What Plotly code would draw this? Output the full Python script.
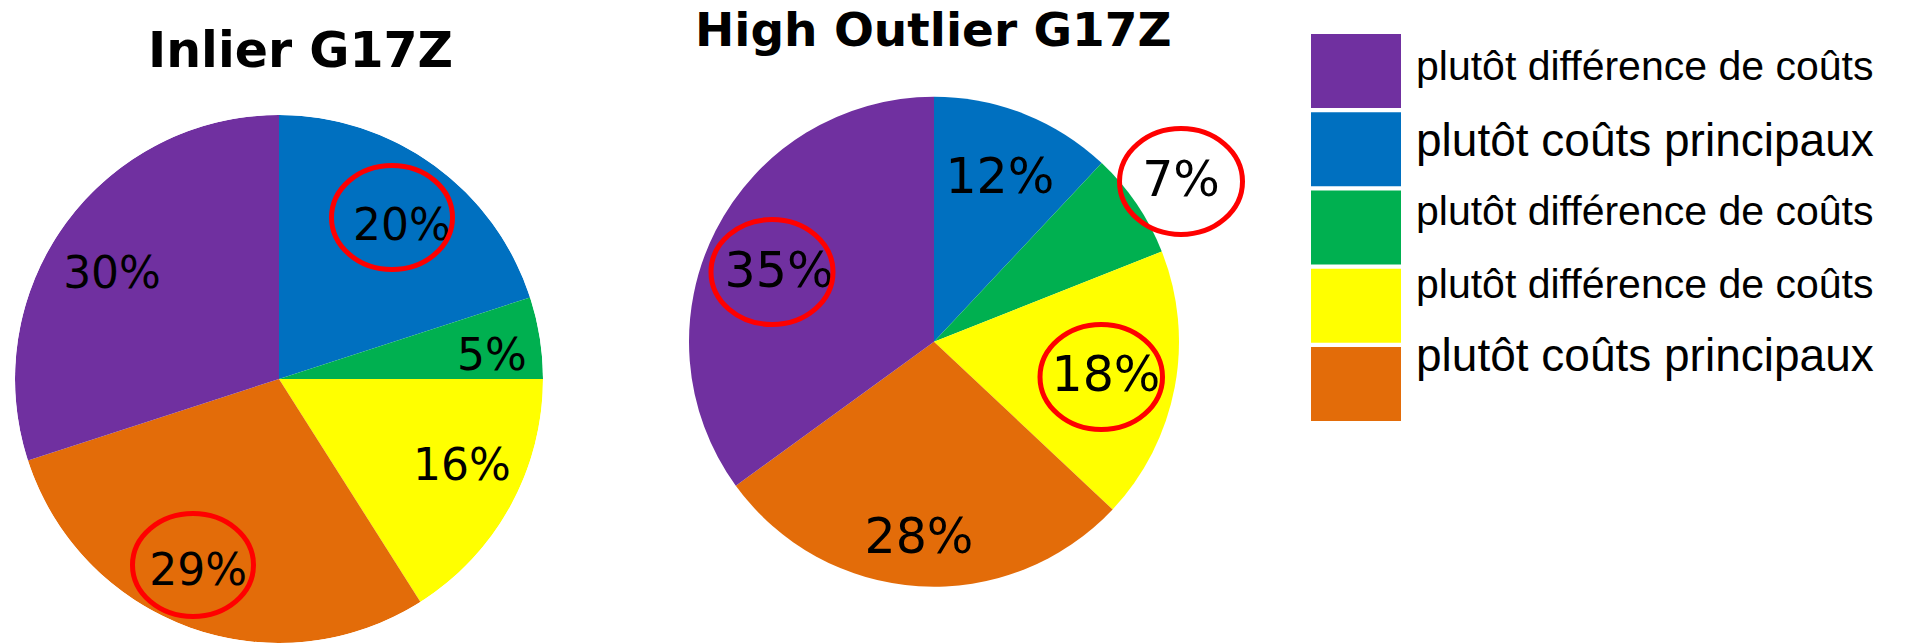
import numpy as np
import plotly.graph_objects as go

W, H = 1911, 643

# ---------------- data ----------------
legend_labels = [
    "plutôt différence de coûts",
    "plutôt coûts principaux",
    "plutôt différence de coûts",
    "plutôt différence de coûts",
    "plutôt coûts principaux",
]
legend_colors = ["#7030A0", "#0070C0", "#00B050", "#FFFF00", "#E36C09"]

# slices clockwise from 12 o'clock (index into legend lists)
slice_order = [1, 2, 3, 4, 0]
inlier_values = [20, 5, 16, 29, 30]
high_outlier_values = [12, 7, 18, 28, 35]

titles = ["Inlier G17Z", "High Outlier G17Z"]

# ---------------- style / layout ----------------
# label placement: distance from centre (fraction of radius) and angular nudge (deg)
inlier_label_r = [0.755, 0.813, 0.761, 0.775, 0.755]
inlier_label_nudge = [2.1, 1.8, -4.4, 3.5, -2.9]
outlier_label_r = [0.740, 1.215, 0.712, 0.783, 0.702]
outlier_label_nudge = [-0.3, 0.3, -1.1, 0.9, -1.3]


def px(x):
    return x / W


def py(y):
    return 1 - y / H


def wedges(values):
    v = np.asarray(values, dtype=float)
    widths = v / v.sum() * 360.0
    mids = np.cumsum(widths) - widths / 2
    return mids, widths


def label_polar(r, theta_deg, down_frac):
    """shift the label point down (screen) so the glyphs are visually centred"""
    t = np.radians(theta_deg)
    x = np.asarray(r) * np.sin(t)
    y = np.asarray(r) * np.cos(t) - down_frac
    return np.hypot(x, y), np.degrees(np.arctan2(x, y)) % 360


fig = go.Figure()

pies = [
    ("polar", inlier_values, inlier_label_r, inlier_label_nudge, 44, 264),
    ("polar2", high_outlier_values, outlier_label_r, outlier_label_nudge, 49, 245),
]
slice_colors = [legend_colors[i] for i in slice_order]

for subplot, values, label_r, nudge, fsize, radius in pies:
    mids, widths = wedges(values)
    fig.add_trace(go.Barpolar(
        r=[1] * len(values), theta=mids, width=widths,
        marker=dict(color=slice_colors, line=dict(width=0)),
        subplot=subplot, showlegend=False, hoverinfo="skip",
    ))
    lr, lt = label_polar(label_r, mids + np.asarray(nudge), 0.155 * fsize / radius)
    fig.add_trace(go.Scatterpolar(
        r=lr, theta=lt, mode="text",
        text=[f"{v}%" for v in values],
        textposition="middle center",
        textfont=dict(family="DejaVu Sans", size=fsize, color="black"),
        cliponaxis=False, subplot=subplot, showlegend=False, hoverinfo="skip",
    ))


def polar_layout(cx, cy, radius, rmax):
    half = radius * rmax
    return dict(
        domain=dict(x=[px(cx - half), px(cx + half)],
                    y=[max(0.0, py(cy + half)), min(1.0, py(cy - half))]),
        bgcolor="rgba(0,0,0,0)", hole=0, bargap=0,
        radialaxis=dict(range=[0, rmax], visible=False),
        angularaxis=dict(rotation=90, direction="clockwise", visible=False),
    )


shapes = []
annotations = []

# titles
annotations.append(dict(
    text=titles[0], x=px(300), y=py(51), xref="paper", yref="paper",
    xanchor="center", yanchor="middle", showarrow=False,
    font=dict(family="DejaVu Sans", size=49, weight=700, color="black"),
))
annotations.append(dict(
    text=titles[1], x=px(933), y=1, xref="paper", yref="paper",
    xanchor="center", yanchor="top", showarrow=False,
    font=dict(family="DejaVu Sans", size=47, weight=700, color="black"),
))

# legend (swatches + text)
sw_x0, sw_x1, sw_top, sw_h, sw_step = 1311, 1401, 34, 74, 78.25
legend_text_y = [66, 140, 211, 284, 355]
legend_font_sizes = [41, 46, 41, 41, 46]
for i, (lab, col) in enumerate(zip(legend_labels, legend_colors)):
    t = sw_top + i * sw_step
    shapes.append(dict(
        type="rect", xref="paper", yref="paper",
        x0=px(sw_x0), x1=px(sw_x1), y0=py(t), y1=py(t + sw_h),
        fillcolor=col, line=dict(width=0), layer="above",
    ))
    annotations.append(dict(
        text=lab, x=px(1414), y=py(legend_text_y[i]), xref="paper", yref="paper",
        xanchor="left", yanchor="middle", showarrow=False,
        font=dict(family="Liberation Sans, Arial, sans-serif",
                  size=legend_font_sizes[i], color="black"),
    ))

# red highlight ellipses (x0, x1, y0, y1 in pixels)
highlights = [
    (331.5, 452.5, 165.5, 269.5),
    (132.5, 253.5, 513.5, 616.5),
    (711, 833, 219.5, 324.5),
    (1119.5, 1242.5, 128.5, 234.5),
    (1040, 1162.5, 324.5, 429.5),
]
for x0, x1, y0, y1 in highlights:
    shapes.append(dict(
        type="circle", xref="paper", yref="paper",
        x0=px(x0), x1=px(x1), y0=py(y1), y1=py(y0),
        line=dict(color="#FF0000", width=5), fillcolor="rgba(0,0,0,0)",
        layer="above",
    ))

fig.update_layout(
    width=W, height=H,
    margin=dict(l=0, r=0, t=0, b=0),
    paper_bgcolor="white", plot_bgcolor="white",
    showlegend=False,
    polar=polar_layout(279, 379, 264, 1.0),
    polar2=polar_layout(934, 341.7, 245, 1.229),
    shapes=shapes,
    annotations=annotations,
)

fig.write_html(
    "out.html",
    config={"displayModeBar": False},
    post_script="document.body.style.margin='0px';document.body.style.overflow='hidden';",
)
